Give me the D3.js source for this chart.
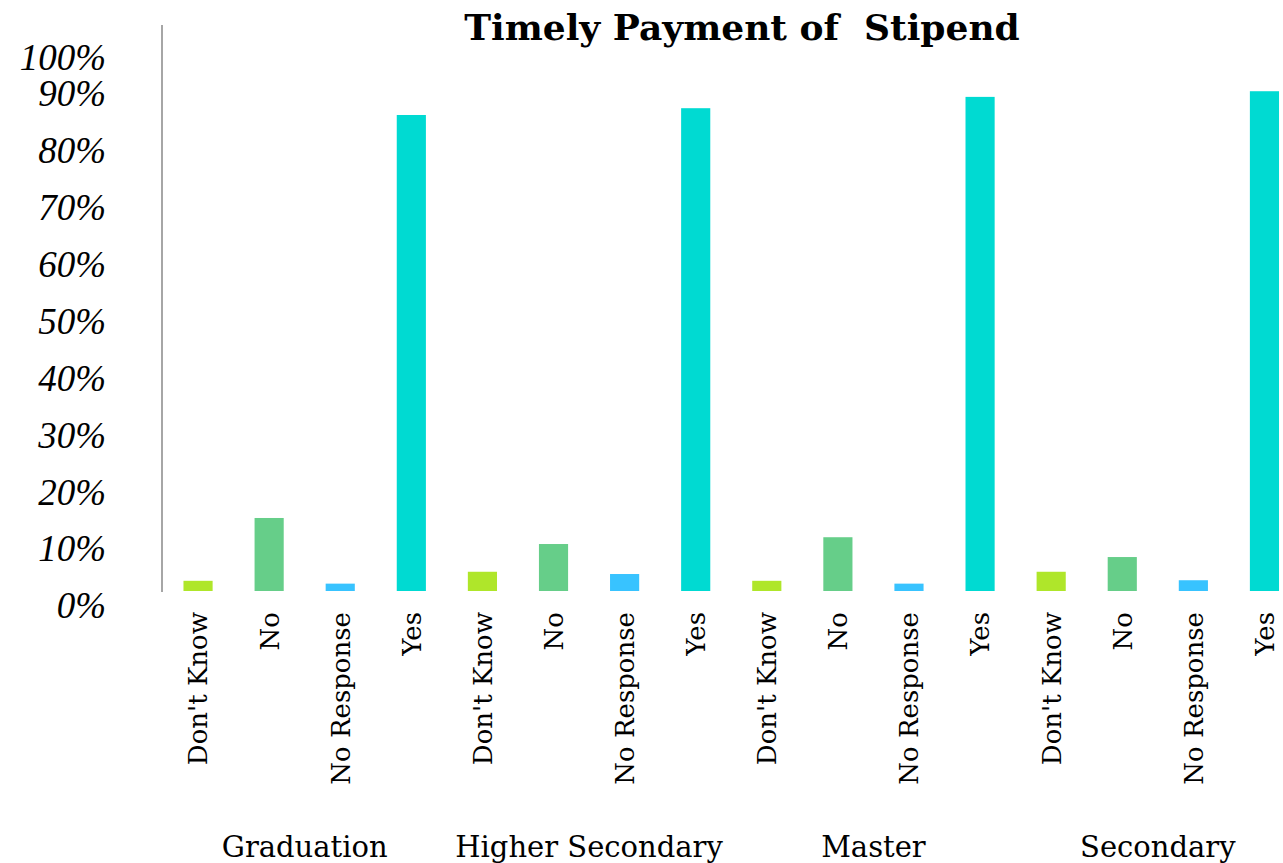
<!DOCTYPE html>
<html>
<head>
<meta charset="utf-8">
<script src="https://cdn.jsdelivr.net/npm/d3@7"></script>
<style>
  body { margin: 0; background: #fff; }
</style>
</head>
<body>
<div id="svg-container"></div>
<script>
// chart data
const groups = ['Graduation', 'Higher Secondary', 'Master', 'Secondary'];
const responses = ["Don't Know", 'No', 'No Response', 'Yes'];
const dontKnow = [0.018, 0.034, 0.018, 0.034];
const no = [0.129, 0.083, 0.095, 0.060];
const noResponse = [0.013, 0.030, 0.013, 0.019];
const yes = [0.841, 0.853, 0.873, 0.883];
const yTicks = [0, 0.1, 0.2, 0.3, 0.4, 0.5, 0.6, 0.7, 0.8, 0.9, 1];
const colors = ['#afe62a', '#66ce89', '#38c3ff', '#00dad2'];

const svgWidth = 1283;
const svgHeight = 863;

const svg = d3
.select('#svg-container')
.append('svg')
.attr('width', svgWidth)
.attr('height', svgHeight)
.style('display', 'block');

// one row per bar, group-major order
const series = [dontKnow, no, noResponse, yes];
const rows = [];
groups.forEach((g, gi) => {
    responses.forEach((r, ri) => {
        rows.push({ key: g + '|' + r, group: g, response: r, ri, value: series[ri][gi] });
    });
});

// x: one band per bar, the plot runs past the right edge like the original
const x = d3.scaleBand()
.domain(rows.map((d) => d.key))
.range([162.5, 1300])
.paddingInner(0.59)
.paddingOuter(0.295);

// y: bar scale
const y = d3.scaleLinear()
.domain([0, 1])
.range([591, 25]);

// the tick labels in the original sit on their own spacing
const yLabel = d3.scaleLinear()
.domain([0, 1])
.range([606, 37]);

// title (keeps the double space)
svg.append('text')
.attr('x', 742)
.attr('y', 40)
.attr('text-anchor', 'middle')
.attr('font-family', "'DejaVu Serif', serif")
.attr('font-weight', 'bold')
.attr('font-size', 36)
.attr('fill', '#000')
.style('white-space', 'pre')
.text('Timely Payment of  Stipend');

// y axis labels
const yAxis = svg.append('g')
.attr('transform', 'translate(106, 0)')
.call(
    d3.axisLeft(yLabel)
    .tickValues(yTicks)
    .tickSize(0)
    .tickPadding(0)
    .tickFormat(d3.format('.0%'))
);
yAxis.select('.domain').remove();
yAxis.selectAll('text')
.attr('font-family', "'Liberation Serif', serif")
.attr('font-style', 'italic')
.attr('font-size', 37)
.attr('fill', '#000');
// the 100% label is pushed down towards 90% in the original
yAxis.selectAll('.tick')
.filter((d) => d === 1)
.attr('transform', `translate(0, ${yLabel(1) + 21})`);

// vertical axis line
svg.append('line')
.attr('x1', 162)
.attr('x2', 162)
.attr('y1', y(1))
.attr('y2', y(0) + 1)
.attr('stroke', '#a6a6a6')
.attr('stroke-width', 2);

// bars
svg.append('g')
.selectAll('rect')
.data(rows)
.enter()
.append('rect')
.attr('x', (d) => x(d.key))
.attr('width', x.bandwidth())
.attr('y', (d) => y(d.value))
.attr('height', (d) => y(0) - y(d.value))
.attr('fill', (d) => colors[d.ri]);

// response labels, rotated
svg.append('g')
.selectAll('text')
.data(rows)
.enter()
.append('text')
.attr('transform', (d) => `translate(${x(d.key) + x.bandwidth() / 2}, 612) rotate(-90)`)
.attr('text-anchor', 'end')
.attr('dy', '0.36em')
.attr('font-family', "'DejaVu Serif', serif")
.attr('font-size', 26)
.attr('fill', '#000')
.text((d) => d.response);

// group labels under each set of four bars
svg.append('g')
.selectAll('text')
.data(groups)
.enter()
.append('text')
.attr('x', (g) => {
    const first = x(g + '|' + responses[0]);
    const last = x(g + '|' + responses[responses.length - 1]);
    return (first + last + x.bandwidth()) / 2;
})
.attr('y', 857)
.attr('text-anchor', 'middle')
.attr('font-family', "'DejaVu Serif', serif")
.attr('font-size', 29)
.attr('fill', '#000')
.text((g) => g);
</script>
</body>
</html>
